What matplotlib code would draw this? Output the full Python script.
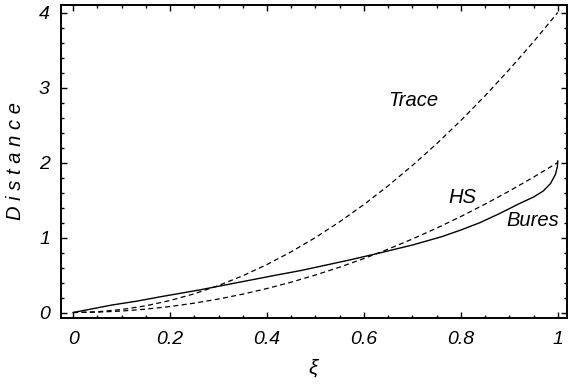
import matplotlib
matplotlib.use("Agg")
import matplotlib.pyplot as plt
from matplotlib.ticker import MultipleLocator

# values
xi = [0, 0.05, 0.1, 0.15, 0.2, 0.25, 0.3, 0.35, 0.4, 0.45, 0.5,
      0.55, 0.6, 0.65, 0.7, 0.75, 0.8, 0.85, 0.9, 0.95, 1.0]
trace = [0, 0.01, 0.04, 0.09, 0.16, 0.25, 0.36, 0.49, 0.64, 0.81, 1.0,
         1.21, 1.44, 1.69, 1.96, 2.25, 2.56, 2.89, 3.24, 3.61, 4.0]
hs = [0, 0.005, 0.02, 0.045, 0.08, 0.125, 0.18, 0.245, 0.32, 0.405, 0.5,
      0.605, 0.72, 0.845, 0.98, 1.125, 1.28, 1.445, 1.62, 1.805, 2.0]

# the Bures curve bends up steeply at the end, so it has its own xi values
bures_xi = [0, 0.04, 0.08, 0.13, 0.18, 0.26, 0.34, 0.42, 0.47, 0.52, 0.57,
            0.63, 0.7, 0.76, 0.8, 0.84, 0.88, 0.92, 0.95, 0.97, 0.985,
            0.995, 0.999, 1.0]
bures = [0, 0.05, 0.10, 0.15, 0.21, 0.30, 0.40, 0.50, 0.56, 0.63, 0.70,
         0.79, 0.90, 1.01, 1.10, 1.20, 1.32, 1.45, 1.54, 1.62, 1.72,
         1.84, 1.94, 2.02]

labels = ["Trace", "HS", "Bures"]
label_pos = [(0.701, 2.83), (0.802, 1.53), (0.949, 1.23)]

font = "Liberation Sans"

fig = plt.figure(figsize=(5.68, 3.88), dpi=100)
ax = fig.add_axes([61 / 568, 1 - 318 / 388, 506 / 568, 313 / 388])

ax.plot(xi, trace, color="black", lw=0.9, dashes=(4, 2.7))
ax.plot(xi, hs, color="black", lw=0.9, dashes=(4, 2.7))
ax.plot(bures_xi, bures, color="black", lw=1.0)

for name, (x, y) in zip(labels, label_pos):
    ax.text(x, y, name, family=font, style="italic", fontsize=14.5,
            ha="center", va="center")

ax.set_xlim(-0.025, 1.019)
ax.set_ylim(-0.073, 4.1)

ax.xaxis.set_major_locator(MultipleLocator(0.2))
ax.xaxis.set_minor_locator(MultipleLocator(0.05))
ax.yaxis.set_major_locator(MultipleLocator(1))
ax.yaxis.set_minor_locator(MultipleLocator(0.2))
ax.set_xticks([0, 0.2, 0.4, 0.6, 0.8, 1.0])
ax.set_xticklabels(["0", "0.2", "0.4", "0.6", "0.8", "1"])

ax.tick_params(which="both", direction="in", top=True, right=True,
               width=1.0, labelsize=14)
ax.tick_params(which="major", length=4.5)
ax.tick_params(which="minor", length=2.5)
ax.tick_params(axis="x", pad=9)
ax.tick_params(axis="y", pad=8)
for lab in ax.get_xticklabels() + ax.get_yticklabels():
    lab.set_family(font)
    lab.set_style("italic")

for sp in ax.spines.values():
    sp.set_linewidth(1.4)

fig.text(16 / 568, 1 - 161 / 388, "D i s t a n c e", family=font,
         style="italic", fontsize=14.5, rotation=90, ha="center", va="center")
fig.text(313 / 568, 1 - 368 / 388, "ξ", family=font, style="italic",
         fontsize=15, ha="center", va="center")

fig.savefig("out.png", dpi=100)
